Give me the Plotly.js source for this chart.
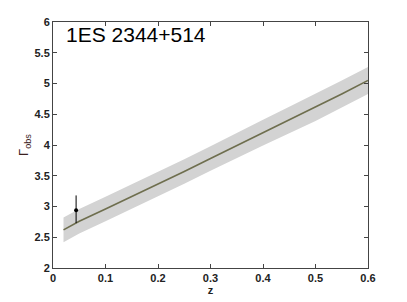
<!DOCTYPE html>
<html>
<head>
<meta charset="utf-8">
<script src="https://cdn.plot.ly/plotly-3.0.1.min.js"></script>
<style>
  html, body { margin: 0; padding: 0; background: #fff; }
  #chart { width: 407px; height: 302px; }
</style>
</head>
<body>
<div id="chart"></div>
<script>
// --- data ---
const zModel = [0.02, 0.05, 0.1, 0.15, 0.2, 0.25, 0.3, 0.35, 0.4, 0.45, 0.5, 0.55, 0.6];
const gammaModel = [2.62, 2.76, 2.96, 3.16, 3.36, 3.57, 3.78, 3.99, 4.2, 4.4, 4.61, 4.83, 5.05];
const gammaUpper = [2.82, 2.96, 3.16, 3.36, 3.56, 3.77, 3.98, 4.2, 4.41, 4.62, 4.83, 5.05, 5.27];
const gammaLower = [2.42, 2.56, 2.76, 2.96, 3.16, 3.37, 3.58, 3.79, 3.99, 4.19, 4.39, 4.61, 4.83];

const zObs = [0.044];
const gammaObs = [2.94];
const gammaErrPlus = [0.24];
const gammaErrMinus = [0.21];

const axisFont = { family: 'Liberation Sans, Arial, sans-serif', size: 11, color: '#222', weight: 'bold' };

const traces = [
    {
        x: zModel, y: gammaLower,
        mode: 'lines', line: { width: 0, color: 'rgba(0,0,0,0)' },
        hoverinfo: 'skip', showlegend: false
    },
    {
        x: zModel, y: gammaUpper,
        mode: 'lines', line: { width: 0, color: 'rgba(0,0,0,0)' },
        fill: 'tonexty', fillcolor: '#d3d3d3',
        hoverinfo: 'skip', showlegend: false
    },
    {
        x: zModel, y: gammaModel,
        mode: 'lines', line: { color: '#6e6e4e', width: 1.6 },
        showlegend: false
    },
    {
        x: zObs, y: gammaObs,
        mode: 'markers', marker: { color: '#000', size: 4 },
        error_y: { type: 'data', symmetric: false, array: gammaErrPlus, arrayminus: gammaErrMinus,
                   color: '#000', thickness: 1, width: 0 },
        showlegend: false
    }
];

const layout = {
    width: 407, height: 302,
    margin: { l: 53, r: 39, t: 22, b: 34 },
    paper_bgcolor: '#fff', plot_bgcolor: '#fff',
    showlegend: false,
    xaxis: {
        range: [0, 0.6],
        tickvals: [0, 0.1, 0.2, 0.3, 0.4, 0.5, 0.6],
        ticktext: ['0', '0.1', '0.2', '0.3', '0.4', '0.5', '0.6'],
        ticks: 'inside', ticklen: 4, tickcolor: '#444',
        showline: true, linecolor: '#444', linewidth: 1, mirror: 'ticks',
        showgrid: false, zeroline: false,
        tickfont: axisFont,
        title: { text: 'z', font: axisFont, standoff: 2 }
    },
    yaxis: {
        range: [2, 6],
        tickvals: [2, 2.5, 3, 3.5, 4, 4.5, 5, 5.5, 6],
        ticktext: ['2', '2.5', '3', '3.5', '4', '4.5', '5', '5.5', '6'],
        ticks: 'inside', ticklen: 4, tickcolor: '#444',
        showline: true, linecolor: '#444', linewidth: 1, mirror: 'ticks',
        showgrid: false, zeroline: false,
        tickfont: axisFont,
        title: { text: 'Γ<sub>obs</sub>', font: { family: 'Liberation Sans, Arial, sans-serif', size: 13, color: '#3a2020' }, standoff: 2 }
    },
    annotations: [{
        text: '1ES 2344+514',
        xref: 'paper', yref: 'paper', x: 0.035, y: 1.005,
        xanchor: 'left', yanchor: 'top', showarrow: false,
        font: { family: 'Liberation Sans, Arial, sans-serif', size: 21, color: '#000' }
    }]
};

Plotly.newPlot('chart', traces, layout, { staticPlot: true });
</script>
</body>
</html>
